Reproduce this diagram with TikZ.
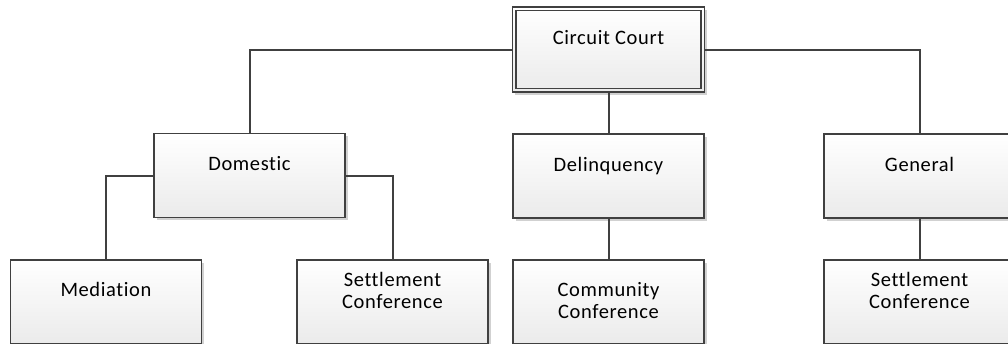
\documentclass[tikz,border=0pt]{standalone}
\usepackage{fontspec}
\setmainfont{Carlito}[LetterSpace=3, Ligatures={NoCommon}]
\usetikzlibrary{shadows}
\definecolor{edge}{HTML}{404040}
\tikzset{
  box/.style={draw=edge, line width=1.8pt, minimum width=191pt, minimum height=84pt,
    inner sep=0pt, top color=white, bottom color=black!8,
    drop shadow={shadow xshift=2.5pt, shadow yshift=-2.5pt, fill=black, opacity=0.18}},
  lbl/.style={anchor=base, inner sep=0pt, text=black, font=\fontsize{20.5}{21}\selectfont},
  conn/.style={draw=edge, line width=2pt}
}
\begin{document}
\begin{tikzpicture}[x=1pt, y=-1pt]
\useasboundingbox (0,0) rectangle (1008,343);
% boxes
\node[box, minimum width=192pt, minimum height=85pt] (cc) at (608.5,49.5) {};
\draw[edge, line width=1.5pt] ([xshift=4.5pt,yshift=-4.5pt]cc.north west) rectangle ([xshift=-4.5pt,yshift=4.5pt]cc.south east);
\node[box] (dom) at (249.5,175.5) {};
\node[box] (del) at (608.5,176) {};
\node[box] (gen) at (919.5,176) {};
\node[box] (med) at (106,302) {};
\node[box] (set1) at (392.5,302) {};
\node[box] (com) at (608.5,302) {};
\node[box] (set2) at (919.5,302) {};
% labels
\node[lbl] (tcc) at ([yshift=-38pt]cc.north) {Circuit Court};
\node[lbl] (tdom) at ([yshift=-38pt]dom.north) {Domestic};
\node[lbl] (tdel) at ([yshift=-38pt]del.north) {Delinquency};
\node[lbl] (tgen) at ([yshift=-38pt]gen.north) {General};
\node[lbl] (tmed) at ([yshift=-37pt]med.north) {Mediation};
\node[lbl] (ts1a) at ([yshift=-27pt]set1.north) {Settlement};
\node[lbl] (ts1b) at ([yshift=-49pt]set1.north) {Conference};
\node[lbl] (tcoa) at ([yshift=-37pt]com.north) {Community};
\node[lbl] (tcob) at ([yshift=-59pt]com.north) {Conference};
\node[lbl] (ts2a) at ([yshift=-27pt]set2.north) {Settlement};
\node[lbl] (ts2b) at ([yshift=-49pt]set2.north) {Conference};
% connectors
\draw[conn] (cc.west) -| (dom.north);
\draw[conn] (cc.east) -| (gen.north);
\draw[conn] (cc.south) -- (del.north);
\draw[conn] (dom.west) -| (med.north);
\draw[conn] (dom.east) -| (set1.north);
\draw[conn] (del.south) -- (com.north);
\draw[conn] (gen.south) -- (set2.north);
\end{tikzpicture}
\end{document}
